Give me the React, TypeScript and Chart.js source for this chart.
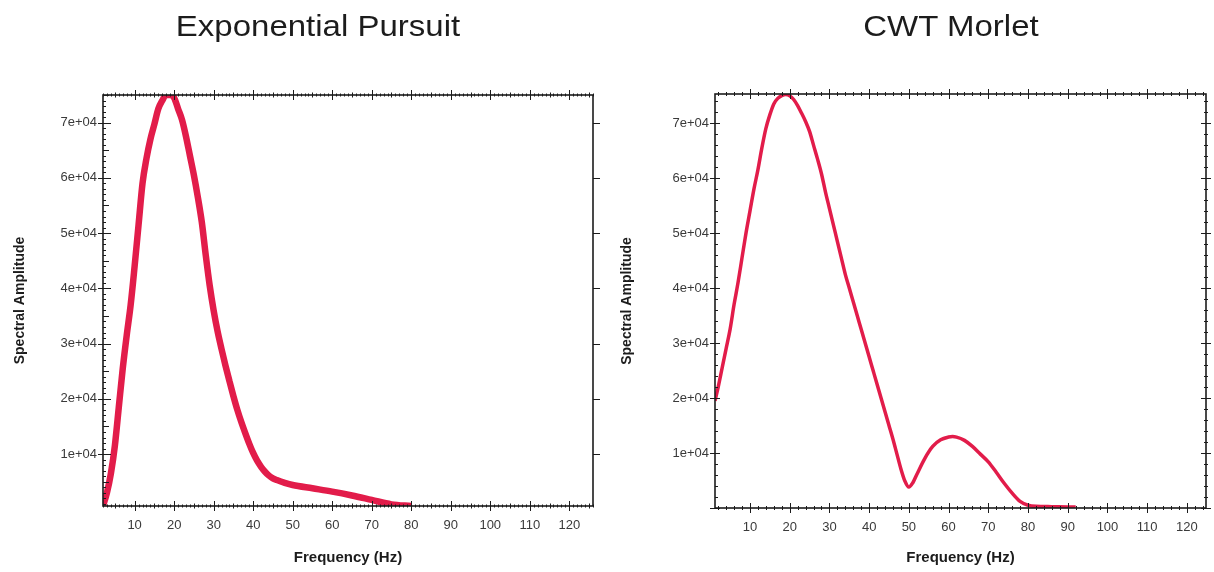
import React, { useEffect, useRef } from "react";
import { Chart, registerables } from "chart.js";

Chart.register(...registerables);
Chart.defaults.font.family = "'Liberation Sans', Arial, sans-serif";

// ---------- data ----------
const titles = ["Exponential Pursuit", "CWT Morlet"];
const xAxisTitle = "Frequency (Hz)";
const yAxisTitle = "Spectral Amplitude";
const xTickValues = [10, 20, 30, 40, 50, 60, 70, 80, 90, 100, 110, 120];
const yTickValues = [10000, 20000, 30000, 40000, 50000, 60000, 70000];

const epFreq = [
  2, 3, 4, 5, 6, 7, 8, 9, 10, 11, 12, 13, 14, 15, 16, 17, 18, 19, 20, 21, 22, 23, 24, 25, 26, 27, 28, 29, 30, 31,
  32, 33, 34, 35, 36, 37, 38, 39, 40, 41, 42, 43, 44, 45, 46, 48, 50, 55, 60, 65, 70, 75, 80,
];
const epAmp = [
  600, 3000, 6500, 11500, 18500, 25500, 31500, 37000, 44000, 51500, 59000, 63500, 67000, 69700, 72500, 74000,
  75000, 75000, 74500, 72500, 70500, 67500, 64000, 60500, 56500, 52000, 46000, 40500, 36000, 32200, 29000, 26000,
  23200, 20500, 18000, 15800, 13800, 11900, 10200, 8800, 7700, 6800, 6100, 5600, 5300, 4800, 4400, 3800, 3200,
  2500, 1700, 900, 600,
];

const cwtFreq = [
  1.2, 2, 3, 4, 5, 6, 7, 8, 9, 10, 11, 12, 13, 14, 15, 16, 17, 18, 19, 20, 21, 22, 23, 24, 25, 26, 27, 28, 29, 30,
  31, 32, 33, 34, 35, 36, 37, 38, 39, 40, 41, 42, 43, 44, 45, 46, 47, 48, 49, 50, 51, 52, 54, 56, 58, 60, 61, 62,
  64, 66, 68, 70, 72, 74, 76, 78, 80, 82, 86, 90, 92,
];
const cwtAmp = [
  19500, 22000, 25500, 29000, 32500, 37000, 41000, 45500, 50000, 54000, 58000, 61500, 65500, 69000, 71500, 73500,
  74500, 75000, 75200, 75000, 74300, 73200, 71800, 70300, 68500, 66000, 63500, 60800, 57500, 54500, 51500, 48500,
  45500, 42500, 40000, 37500, 35000, 32500, 30000, 27500, 25000, 22500, 20000, 17500, 15000, 12500, 9800, 7100,
  4900, 3800, 4600, 6100, 9000, 11200, 12400, 12900, 13000, 12900, 12300, 11200, 9800, 8400, 6500, 4500, 2700,
  1200, 500, 300, 250, 200, 200,
];

// ---------- layout / style ----------
const W = 607;
const H = 572;
const LINE = "#e21c4a";
const INK = "#1c1c1c";

type Marks = { step: number; mid: number; minor: number[]; midLen: number[]; major: number[] };

const frameTicks = {
  id: "frameTicks",
  afterDatasetsDraw(chart: any, _args: any, opts: any) {
    const { ctx, chartArea: a, scales } = chart;
    const sx = scales.x;
    const sy = scales.y;
    ctx.save();
    ctx.strokeStyle = INK;
    ctx.lineWidth = 1;
    ctx.beginPath();
    const draw = (scale: any, side: string, m: Marks, majorStep: number) => {
      const n0 = Math.ceil(scale.min / m.step - 1e-9);
      const n1 = Math.floor(scale.max / m.step + 1e-9);
      for (let i = n0; i <= n1; i++) {
        const v = i * m.step;
        const isMajor = Math.abs(v / majorStep - Math.round(v / majorStep)) < 1e-6;
        const isMid = !isMajor && m.mid > 0 && Math.abs(v / m.mid - Math.round(v / m.mid)) < 1e-6;
        const [inL, outL] = isMajor ? m.major : isMid ? m.midLen : m.minor;
        if (inL + outL <= 0) continue;
        const p = Math.round(scale.getPixelForValue(v)) + 0.5;
        if (side === "bottom") {
          ctx.moveTo(p, a.bottom - inL);
          ctx.lineTo(p, a.bottom + outL);
        } else if (side === "top") {
          ctx.moveTo(p, a.top + inL);
          ctx.lineTo(p, a.top - outL);
        } else if (side === "left") {
          ctx.moveTo(a.left + inL, p);
          ctx.lineTo(a.left - outL, p);
        } else {
          ctx.moveTo(a.right - inL, p);
          ctx.lineTo(a.right + outL, p);
        }
      }
    };
    draw(sx, "bottom", opts.x, 10);
    draw(sx, "top", opts.x, 10);
    draw(sy, "left", opts.yLeft, 10000);
    draw(sy, "right", opts.yRight, 10000);
    ctx.stroke();
    ctx.lineWidth = 1.6;
    ctx.strokeRect(a.left, a.top, a.right - a.left, a.bottom - a.top);
    ctx.restore();
  },
};

const panels = [
  {
    freq: epFreq,
    amp: epAmp,
    lineWidth: 6.5,
    xMin: 2,
    xMax: 126,
    yMin: 600,
    yMax: 75000,
    left: 103,
    right: 593,
    top: 95,
    bottom: 506,
    offset: 0,
    titleCenter: 318,
    marks: {
      x: { step: 1, mid: 5, minor: [1.5, 1.5], midLen: [2.5, 2.5], major: [5, 5] },
      yLeft: { step: 1000, mid: 5000, minor: [3, 0], midLen: [6, 0], major: [8, 5] },
      yRight: { step: 10000, mid: 0, minor: [0, 0], midLen: [0, 0], major: [0, 7] },
    },
  },
  {
    freq: cwtFreq,
    amp: cwtAmp,
    lineWidth: 3.5,
    xMin: 1.2,
    xMax: 124.8,
    yMin: 0,
    yMax: 75300,
    left: 108,
    right: 599,
    top: 94,
    bottom: 508,
    offset: 607,
    titleCenter: 951,
    marks: {
      x: { step: 2, mid: 0, minor: [2, 2], midLen: [2, 2], major: [5, 5] },
      yLeft: { step: 2000, mid: 0, minor: [3, 0], midLen: [3, 0], major: [5, 5] },
      yRight: { step: 2000, mid: 0, minor: [2, 2], midLen: [2, 2], major: [5, 5] },
    },
  },
];

function Panel({ idx }: { idx: number }) {
  const ref = useRef<HTMLCanvasElement>(null);
  useEffect(() => {
    const p = panels[idx];
    const tickFont = { size: 13 };
    const chart = new Chart(ref.current as HTMLCanvasElement, {
      type: "line",
      data: {
        datasets: [
          {
            data: p.freq.map((f, i) => ({ x: f, y: p.amp[i] })),
            borderColor: LINE,
            backgroundColor: LINE,
            borderWidth: p.lineWidth,
            pointRadius: 0,
            cubicInterpolationMode: "monotone",
            fill: false,
          },
        ],
      },
      options: {
        animation: false,
        responsive: false,
        devicePixelRatio: 1,
        layout: { padding: 0 },
        plugins: {
          legend: { display: false },
          tooltip: { enabled: false },
          title: { display: false },
          frameTicks: p.marks,
        } as any,
        scales: {
          x: {
            type: "linear",
            position: "bottom",
            min: p.xMin,
            max: p.xMax,
            grid: { display: false, drawTicks: false },
            border: { display: false },
            afterBuildTicks: (s: any) => {
              s.ticks = xTickValues.map((v) => ({ value: v }));
            },
            afterFit: (s: any) => {
              s.height = H - p.bottom;
            },
            ticks: {
              padding: 12,
              color: "#3a3a3a",
              font: tickFont,
              maxRotation: 0,
              autoSkip: false,
              callback: (v: any) => String(v),
            },
            title: {
              display: true,
              text: xAxisTitle,
              color: INK,
              font: { size: 15, weight: "bold" },
              padding: { top: 0, bottom: 5 },
            },
          },
          x2: {
            type: "linear",
            position: "top",
            min: p.xMin,
            max: p.xMax,
            grid: { display: false, drawTicks: false },
            border: { display: false },
            ticks: { display: false },
            afterFit: (s: any) => {
              s.height = p.top;
            },
          },
          y: {
            type: "linear",
            position: "left",
            min: p.yMin,
            max: p.yMax,
            grid: { display: false, drawTicks: false },
            border: { display: false },
            afterBuildTicks: (s: any) => {
              s.ticks = yTickValues.map((v) => ({ value: v }));
            },
            afterFit: (s: any) => {
              s.width = p.left;
            },
            ticks: {
              padding: 6,
              color: "#3a3a3a",
              font: tickFont,
              autoSkip: false,
              callback: (v: any) => `${Math.round(Number(v) / 10000)}e+04`,
            },
            title: {
              display: true,
              text: yAxisTitle,
              color: INK,
              font: { size: 14, weight: "bold" },
              padding: { top: 12, bottom: 0 },
            },
          },
          y2: {
            type: "linear",
            position: "right",
            min: p.yMin,
            max: p.yMax,
            grid: { display: false, drawTicks: false },
            border: { display: false },
            ticks: { display: false },
            afterFit: (s: any) => {
              s.width = W - p.right;
            },
          },
        },
      } as any,
      plugins: [frameTicks as any],
    });
    return () => chart.destroy();
  }, [idx]);
  const p = panels[idx];
  return (
    <div style={{ position: "absolute", left: p.offset, top: 0, width: W, height: H }}>
      <canvas ref={ref} width={W} height={H} style={{ display: "block", width: W, height: H }} />
    </div>
  );
}

export default function App() {
  return (
    <div
      style={{
        position: "absolute",
        left: 0,
        top: 0,
        width: 1214,
        height: 572,
        background: "#ffffff",
        overflow: "hidden",
        fontFamily: "'Liberation Sans', Arial, sans-serif",
      }}
    >
      <Panel idx={0} />
      <Panel idx={1} />
      {panels.map((p, i) => (
        <div
          key={i}
          style={{
            position: "absolute",
            left: p.titleCenter - 200,
            top: 11,
            width: 400,
            textAlign: "center",
            fontSize: 30,
            lineHeight: "30px",
            color: INK,
            transform: "scaleX(1.1)",
          }}
        >
          {titles[i]}
        </div>
      ))}
    </div>
  );
}
